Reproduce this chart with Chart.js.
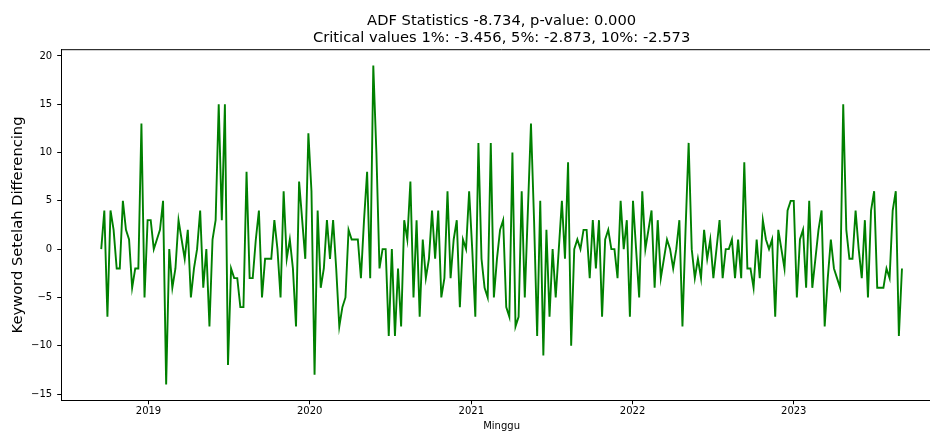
<!DOCTYPE html>
<html>
<head>
<meta charset="utf-8">
<script src="https://cdn.jsdelivr.net/npm/chart.js@4.4.0/dist/chart.umd.min.js"></script>
<style>
  html, body { margin: 0; padding: 0; background: #fff; overflow: hidden; width: 930px; height: 432px; }
  #wrap { width: 950px; height: 432px; }
</style>
</head>
<body>
<div id="wrap"><canvas id="c" width="950" height="432"></canvas></div>
<script>
// Weekly series after first differencing, one value per week
const firstWeek = '2018-09-16';
const weeklyDiff = [
   0,  4, -7,  4,  2, -2, -2,  5,  2,  1, -4, -2, -2, 13, -5,  3,  3,  0,  1,  2,
   5,-14,  0, -4, -2,  3,  1, -1,  2, -5, -2,  0,  4, -4,  0, -8,  1,  3, 15,  3,
  15,-12, -2, -3, -3, -6, -6,  8, -3, -3,  1,  4, -5, -1, -1, -1,  3,  0, -5,  6,
  -1,  1, -2, -8,  7,  3, -1, 12,  6,-13,  4, -4, -2,  3, -1,  3, -2, -8, -6, -5,
   2,  1,  1,  1, -3,  3,  8, -3, 19, 10, -2,  0,  0, -9,  0, -9, -2, -8,  3,  1,
   7, -5,  3, -7,  1, -3, -1,  4, -1,  4, -5, -3,  6, -3,  1,  3, -6,  1,  0,  6,
   0, -7, 11, -1, -4, -5, 11, -5, -1,  2,  3, -6, -7, 10, -8, -7,  6, -5,  4, 13,
   3, -9,  5,-11,  2, -7,  0, -5,  0,  5, -1,  9,-10,  0,  1,  0,  2,  2, -3,  3,
  -2,  3, -7,  1,  2,  0,  0, -3,  5,  0,  3, -7,  5,  0, -5,  6,  0,  2,  4, -4,
   3, -3, -1,  1,  0, -2,  0,  3, -8,  2, 11,  0, -3, -1, -3,  2, -1,  1, -3,  0,
   3, -3,  0,  0,  1, -3,  1, -3,  9, -2, -2, -4,  1, -3,  3,  1,  0,  1, -7,  2,
   0, -2,  4,  5,  5, -5,  1,  2, -4,  5, -4, -1,  2,  4, -8, -3,  1, -2, -3, -4,
  15,  2, -1, -1,  4,  0, -3,  3, -5,  4,  6, -4, -4, -4, -2, -3,  4,  6, -9, -2
];
const yearTicks = [2019, 2020, 2021, 2022, 2023];
const yTicks = [-15, -10, -5, 0, 5, 10, 15, 20];
const titleLines = [
  'ADF Statistics -8.734, p-value: 0.000',
  'Critical values 1%: -3.456, 5%: -2.873, 10%: -2.573'
];
const xTitle = 'Minggu';
const yTitle = 'Keyword Setelah Differencing';

const FONT = '"DejaVu Sans", sans-serif';
const DAY = 86400000;
const dayOf = s => Date.parse(s + 'T00:00:00Z') / DAY;

// x in days since epoch, one point per week
const t0 = dayOf(firstWeek);
const points = weeklyDiff.map((v, i) => ({ x: t0 + 7 * i, y: v }));

// 5% margins around the data on both axes
const xFirst = points[0].x, xLast = points[points.length - 1].x;
const xPad = (xLast - xFirst) * 0.05;
const yLo = Math.min(...weeklyDiff), yHi = Math.max(...weeklyDiff);
const yPad = (yHi - yLo) * 0.05;

const yearDay = {};
yearTicks.forEach(y => { yearDay[y] = dayOf(y + '-01-01'); });

const frame = {
  id: 'frame',
  afterDraw(chart) {
    const { ctx, chartArea: a } = chart;
    ctx.save();
    ctx.strokeStyle = '#000';
    ctx.lineWidth = 1;
    ctx.beginPath();
    ctx.moveTo(a.left, a.top);
    ctx.lineTo(a.right, a.top);
    ctx.lineTo(a.right, a.bottom);
    ctx.stroke();
    ctx.fillStyle = '#000';
    ctx.font = '14.7px ' + FONT;
    ctx.textAlign = 'center';
    ctx.textBaseline = 'middle';
    const cx = (a.left + a.right) / 2;
    ctx.fillText(titleLines[0], cx, 21.5);
    ctx.fillText(titleLines[1], cx, 38.5);
    ctx.restore();
  }
};

new Chart(document.getElementById('c'), {
  type: 'line',
  data: {
    datasets: [{
      data: points,
      borderColor: '#008000',
      borderWidth: 1.9,
      pointRadius: 0,
      tension: 0,
      fill: false
    }]
  },
  options: {
    responsive: false,
    animation: false,
    devicePixelRatio: 1,
    layout: { padding: { top: 49.7, right: 8, bottom: 0, left: 0 } },
    plugins: { legend: { display: false }, tooltip: { enabled: false }, title: { display: false } },
    scales: {
      x: {
        type: 'linear',
        min: xFirst - xPad,
        max: xLast + xPad,
        afterFit: s => { s.height = 31.7; },
        afterBuildTicks: s => { s.ticks = yearTicks.map(y => ({ value: yearDay[y] })); },
        grid: { display: true, drawOnChartArea: false, drawTicks: true, tickLength: 4, color: '#000' },
        border: { display: true, color: '#000', width: 1 },
        ticks: {
          color: '#000',
          padding: 1,
          maxRotation: 0,
          autoSkip: false,
          font: { family: FONT, size: 10 },
          callback: v => String(new Date(v * DAY).getUTCFullYear())
        },
        title: { display: true, text: xTitle, color: '#000', padding: 0, font: { family: FONT, size: 10 } }
      },
      y: {
        min: yLo - yPad,
        max: yHi + yPad,
        afterFit: s => { s.width = 61.2; },
        afterBuildTicks: s => { s.ticks = yTicks.map(v => ({ value: v })); },
        grid: { display: true, drawOnChartArea: false, drawTicks: true, tickLength: 4, color: '#000' },
        border: { display: true, color: '#000', width: 1 },
        ticks: {
          color: '#000',
          padding: 5,
          autoSkip: false,
          font: { family: FONT, size: 10 },
          callback: v => (v < 0 ? '\u2212' + (-v) : String(v))
        },
        title: { display: true, text: yTitle, color: '#000', padding: { top: 9.2, bottom: 0 }, font: { family: FONT, size: 14.7 } }
      }
    }
  },
  plugins: [frame]
});
</script>
</body>
</html>
